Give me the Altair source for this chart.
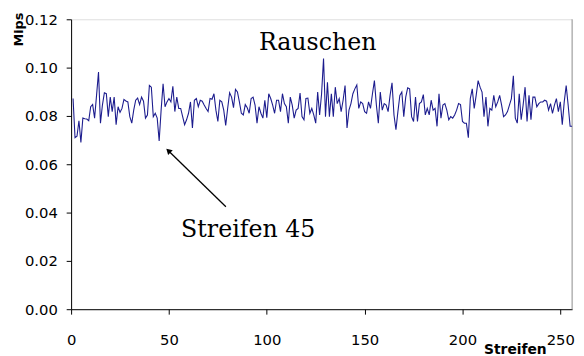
import altair as alt
import pandas as pd

streifen = list(range(1, 257))
mips = [
    0.0872, 0.0710, 0.0716, 0.0780, 0.0690, 0.0791, 0.0788, 0.0787, 0.0780, 0.0838,
    0.0847, 0.0791, 0.0885, 0.0982, 0.0770, 0.0845, 0.0896, 0.0892, 0.0797, 0.0878,
    0.0818, 0.0878, 0.0764, 0.0838, 0.0815, 0.0831, 0.0868, 0.0862, 0.0858, 0.0797,
    0.0770, 0.0824, 0.0865, 0.0874, 0.0847, 0.0878, 0.0861, 0.0791, 0.0804, 0.0926,
    0.0919, 0.0797, 0.0811, 0.0791, 0.0696, 0.0824, 0.0933, 0.0838, 0.0858, 0.0872,
    0.0858, 0.0923, 0.0818, 0.0878, 0.0831, 0.0831, 0.0797, 0.0764, 0.0784, 0.0811,
    0.0858, 0.0750, 0.0865, 0.0872, 0.0838, 0.0865, 0.0861, 0.0845, 0.0831, 0.0818,
    0.0872, 0.0869, 0.0892, 0.0824, 0.0777, 0.0865, 0.0858, 0.0824, 0.0761, 0.0831,
    0.0896, 0.0878, 0.0834, 0.0910, 0.0899, 0.0858, 0.0811, 0.0804, 0.0847, 0.0834,
    0.0811, 0.0872, 0.0878, 0.0845, 0.0770, 0.0838, 0.0811, 0.0791, 0.0865, 0.0793,
    0.0892, 0.0872, 0.0845, 0.0811, 0.0865, 0.0865, 0.0818, 0.0892, 0.0851, 0.0838,
    0.0770, 0.0878, 0.0845, 0.0791, 0.0824, 0.0831, 0.0895, 0.0797, 0.0784, 0.0872,
    0.0874, 0.0811, 0.0831, 0.0804, 0.0770, 0.0899, 0.0804, 0.0892, 0.1038, 0.0797,
    0.0939, 0.0797, 0.0892, 0.0797, 0.0919, 0.0851, 0.0872, 0.0818, 0.0865, 0.0926,
    0.0750, 0.0824, 0.0851, 0.0892, 0.0912, 0.0928, 0.0831, 0.0858, 0.0851, 0.0818,
    0.0811, 0.0858, 0.0831, 0.0892, 0.0946, 0.0845, 0.0770, 0.0899, 0.0824, 0.0851,
    0.0845, 0.0818, 0.0885, 0.0937, 0.0804, 0.0743, 0.0818, 0.0885, 0.0899, 0.0797,
    0.0878, 0.0916, 0.0912, 0.0797, 0.0777, 0.0878, 0.0777, 0.0851, 0.0858, 0.0888,
    0.0804, 0.0831, 0.0804, 0.0865, 0.0824, 0.0831, 0.0757, 0.0892, 0.0791, 0.0845,
    0.0851, 0.0824, 0.0784, 0.0797, 0.0791, 0.0804, 0.0824, 0.0851, 0.0847, 0.0777,
    0.0770, 0.0770, 0.0710, 0.0872, 0.0912, 0.0831, 0.0885, 0.0946, 0.0919, 0.0899,
    0.0797, 0.0878, 0.0757, 0.0831, 0.0824, 0.0885, 0.0838, 0.0858, 0.0885, 0.0845,
    0.0797, 0.0804, 0.0818, 0.0845, 0.0872, 0.0966, 0.0791, 0.0770, 0.0892, 0.0784,
    0.0845, 0.0919, 0.0777, 0.0885, 0.0784, 0.0878, 0.0878, 0.0838, 0.0851, 0.0858,
    0.0858, 0.0865, 0.0861, 0.0824, 0.0851, 0.0811, 0.0845, 0.0872, 0.0818, 0.0858,
    0.0764, 0.0858, 0.0926, 0.0845, 0.0757, 0.0757,
]

x_ticks = [0, 50, 100, 150, 200, 250]
y_ticks = [0.0, 0.02, 0.04, 0.06, 0.08, 0.10, 0.12]

label_text = ["Rauschen", "Streifen 45"]
label_x = [126, 90.5]
label_y = [0.1073, 0.0298]

arrow_tail = (79.1, 0.0424)
arrow_line_end = (50.5, 0.0650)
arrow_head = (49.7, 0.0656)

df = pd.DataFrame({"Streifen": streifen, "Mips": mips})
labels = pd.DataFrame({"x": label_x, "y": label_y, "t": label_text})
arrow = pd.DataFrame({"x": [arrow_tail[0]], "y": [arrow_tail[1]],
                      "x2": [arrow_line_end[0]], "y2": [arrow_line_end[1]]})
head = pd.DataFrame({"x": [arrow_head[0]], "y": [arrow_head[1]]})
border = pd.DataFrame({"x": [256], "y": [0.0], "y2": [0.12]})

xscale = alt.Scale(domain=[0, 256], nice=False, zero=False)
yscale = alt.Scale(domain=[0, 0.12], nice=False)

font = "DejaVu Sans"

line = alt.Chart(df).mark_line(color="#1c1c8e", strokeWidth=1.1).encode(
    x=alt.X("Streifen:Q", scale=xscale,
            axis=alt.Axis(values=x_ticks, format="d", grid=False, title="Streifen",
                          labelFontSize=15, labelFont=font, labelColor="black",
                          labelPadding=19, tickSize=5, tickColor="black",
                          domainColor="black", titleFont=font, titleFontSize=14,
                          titleFontWeight="bold", titleColor="black",
                          titleX=450, titleY=41, titleBaseline="middle",
                          titleAlign="center", labelFlush=False)),
    y=alt.Y("Mips:Q", scale=yscale,
            axis=alt.Axis(values=y_ticks, format=".2f", grid=False, title="Mips",
                          labelFontSize=15, labelFont=font, labelColor="black",
                          labelPadding=9, tickSize=5, tickColor="black",
                          domainColor="black", titleFont=font, titleFontSize=13,
                          titleFontWeight="bold", titleColor="black",
                          titleAngle=270, titleX=-53, titleY=10,
                          titleBaseline="middle", titleAlign="center")),
)

right_border = alt.Chart(border).mark_rule(color="#999999", strokeWidth=1).encode(
    x=alt.X("x:Q", scale=xscale), y=alt.Y("y:Q", scale=yscale), y2="y2:Q"
)

text = alt.Chart(labels).mark_text(font="DejaVu Serif", fontSize=24, color="black",
                                   baseline="alphabetic", align="center").encode(
    x=alt.X("x:Q", scale=xscale), y=alt.Y("y:Q", scale=yscale), text="t:N"
)

arrow_line = alt.Chart(arrow).mark_rule(color="black", strokeWidth=1.3).encode(
    x=alt.X("x:Q", scale=xscale), y=alt.Y("y:Q", scale=yscale), x2="x2:Q", y2="y2:Q"
)

arrow_head_mark = alt.Chart(head).mark_point(shape="triangle-up", filled=True,
                                             color="black", size=45, angle=314,
                                             opacity=1).encode(
    x=alt.X("x:Q", scale=xscale), y=alt.Y("y:Q", scale=yscale)
)

chart = alt.layer(right_border, line, text, arrow_line, arrow_head_mark).properties(
    width=508, height=294,
    autosize=alt.AutoSizeParams(type="none"),
    padding={"left": 64, "top": 9, "right": 4, "bottom": 45},
).configure_view(stroke=None).configure(background="white")

chart.save("out.html", embed_options={"renderer": "svg", "actions": False})
